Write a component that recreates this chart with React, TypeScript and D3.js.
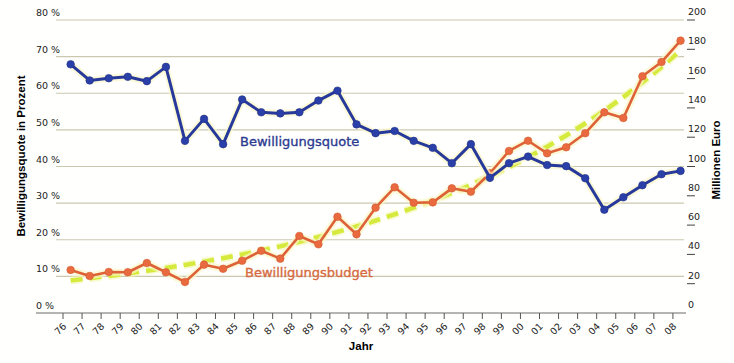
import React from "react";
import * as d3 from "d3";

const years = ["76","77","78","79","80","81","82","83","84","85","86","87","88","89","90","91","92","93","94","95","96","97","98","99","00","01","02","03","04","05","06","07","08"];
const quote = [67.9,63.5,64.1,64.5,63.3,67.2,47.0,53.0,46.1,58.3,54.8,54.5,54.8,58.0,60.7,51.5,49.1,49.7,47.0,45.1,40.9,46.1,36.9,40.9,42.7,40.4,40.1,36.8,28.2,31.6,34.9,37.9,38.8];
const budget = [29.4,25.3,28.0,27.8,34.1,27.8,21.2,33.0,30.2,35.7,42.5,37.1,52.6,46.9,65.7,53.7,71.9,85.8,75.3,75.5,85.1,82.8,95.4,110.6,117.6,109.0,113.1,122.7,137.0,133.1,161.6,171.3,185.9];
const leftTicks = [0,10,20,30,40,50,60,70,80];
const rightTicks = [0,20,40,60,80,100,120,140,160,180,200];

const W = 734, H = 363;
const FONT = "DejaVu Sans, Verdana, sans-serif";
const BOLD = "Liberation Sans, Arial, sans-serif";

export default function App() {
  const x = d3.scaleBand<string>().domain(years).range([63, 63 + 33 * 19.06]).padding(0);
  const bw = x.bandwidth();
  const px = (i: number) => (x(years[i]) as number) + bw * 0.4;
  const yL = d3.scaleLinear().domain([0, 80]).range([313, 20]);
  const yR = d3.scaleLinear().domain([0, 200]).range([313, 20]);

  // exponential trend line (least squares on ln values)
  const n = budget.length;
  const idx = d3.range(n);
  const lnv = budget.map((v) => Math.log(v));
  const mi = d3.mean(idx) as number;
  const ml = d3.mean(lnv) as number;
  const b = d3.sum(idx.map((i) => (i - mi) * (lnv[i] - ml))) / d3.sum(idx.map((i) => (i - mi) ** 2));
  const a = ml - b * mi;
  const trend = idx.map((i) => Math.exp(a + b * i));

  const lineQ = d3.line<number>().x((_, i) => px(i)).y((d) => yL(d));
  const lineB = d3.line<number>().x((_, i) => px(i)).y((d) => yR(d));

  return (
    <svg width={W} height={H} style={{ position: "fixed", left: 0, top: 0, background: "#fffffd" }}>
      <rect x={0} y={0} width={W} height={H} fill="#fffffd" />
      {leftTicks.filter((t) => t > 0).map((t) => (
        <line key={"g" + t} x1={56} x2={684} y1={yL(t)} y2={yL(t)} stroke="#ccc8b0" strokeWidth={1.2} />
      ))}
      <line x1={36} x2={686} y1={yL(0)} y2={yL(0)} stroke="#6a6a66" strokeWidth={1} />
      {years.map((yv) => (
        <line key={"t" + yv} x1={x(yv) as number} x2={x(yv) as number} y1={313} y2={319} stroke="#555" strokeWidth={1} />
      ))}
      {years.map((yv) => (
        <text key={"xl" + yv} transform={`translate(${(x(yv) as number) + 4},327) rotate(-45)`} textAnchor="end"
          fontFamily={FONT} fontSize={9.5} fill="#222">{yv}</text>
      ))}
      {leftTicks.map((t) => (
        <text key={"ll" + t} x={36} y={yL(t) - 4} fontFamily={FONT} fontSize={9.5} fill="#222">{t} %</text>
      ))}
      {rightTicks.map((t) => (
        <g key={"rl" + t}>
          <text x={688} y={yR(t) - 5} fontFamily={FONT} fontSize={9.5} fill="#222">{t}</text>
          {t > 0 && <line x1={687} x2={695} y1={yR(t)} y2={yR(t)} stroke="#444" strokeWidth={1} />}
        </g>
      ))}
      <text transform="translate(25,156) rotate(-90)" textAnchor="middle" fontFamily={BOLD} fontWeight="bold" fontSize={11.5} fill="#000">Bewilligungsquote in Prozent</text>
      <text transform="translate(720,160) rotate(-90)" textAnchor="middle" fontFamily={BOLD} fontWeight="bold" fontSize={11.5} fill="#000">Millionen Euro</text>
      <text x={361} y={350} textAnchor="middle" fontFamily={BOLD} fontWeight="bold" fontSize={11.5} fill="#000">Jahr</text>

      {/* trend */}
      <path d={lineB(trend) as string} fill="none" stroke="#f4f7b0" strokeWidth={8} strokeOpacity={0.6} strokeDasharray="12 7" />
      <path d={lineB(trend) as string} fill="none" stroke="#d5ea3c" strokeWidth={4.5} strokeDasharray="12 7" />

      {/* budget */}
      <path d={lineB(budget) as string} fill="none" stroke="#fbf7c8" strokeWidth={7} strokeOpacity={0.7} />
      <path d={lineB(budget) as string} fill="none" stroke="#de6238" strokeWidth={2.6} strokeLinejoin="round" />
      {budget.map((v, i) => (
        <circle key={"bc" + i} cx={px(i)} cy={yR(v)} r={3.8} fill="#ea6a40" stroke="#d25a32" strokeWidth={0.6} />
      ))}

      {/* quote */}
      <path d={lineQ(quote) as string} fill="none" stroke="#fbf7c8" strokeWidth={7} strokeOpacity={0.7} />
      <path d={lineQ(quote) as string} fill="none" stroke="#27399a" strokeWidth={3} strokeLinejoin="round" />
      {quote.map((v, i) => (
        <circle key={"qc" + i} cx={px(i)} cy={yL(v)} r={3.8} fill="#2b3fa8" stroke="#22338a" strokeWidth={0.6} />
      ))}

      <text x={240} y={146} fontFamily={FONT} fontSize={13} fill="#2b3a8f" stroke="#2b3a8f" strokeWidth={0.35}>Bewilligungsquote</text>
      <text x={245} y={276.5} fontFamily={FONT} fontSize={13} fill="#d66a40" stroke="#d66a40" strokeWidth={0.35}>Bewilligungsbudget</text>
    </svg>
  );
}
